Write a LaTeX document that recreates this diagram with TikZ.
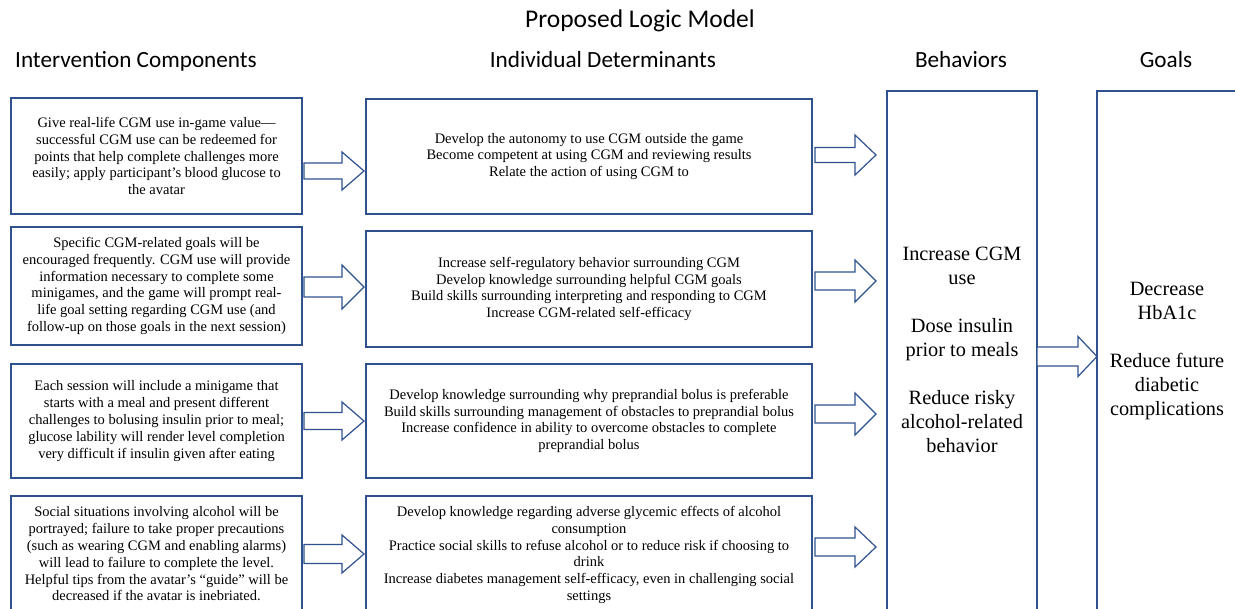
\documentclass[tikz,border=0pt]{standalone}
\usepackage{fontspec}
\setmainfont{Liberation Serif}
\newfontfamily\hdfont{Carlito}
\definecolor{boxblue}{HTML}{2F528F}
\newcommand\blockarr[6]{% x0, xtip, yc, shaft half, head half, head length
  \draw[arr] (#1,#3-#4) -- (#2-#6,#3-#4) -- (#2-#6,#3-#5) -- (#2,#3) -- (#2-#6,#3+#5) -- (#2-#6,#3+#4) -- (#1,#3+#4) -- cycle;}
\begin{document}
\begin{tikzpicture}[x=1pt,y=-1pt,
  box/.style={draw=boxblue, line width=1.3pt, fill=white, inner sep=0pt, align=center},
  small/.style={font=\fontsize{14.5}{16.8}\selectfont},
  big/.style={font=\fontsize{20.3}{24}\selectfont},
  head/.style={font=\hdfont\fontsize{23.2}{27}\selectfont, inner sep=0pt, anchor=base},
  arr/.style={draw=boxblue, line width=1.2pt, fill=white}]
\useasboundingbox (0,0) rectangle (1235,609);
\clip (0,0) rectangle (1235,609);
\fill[white] (0,0) rectangle (1235,609);

% headings
\node[head, font=\hdfont\fontsize{25.5}{30}\selectfont] (title) at (640,28) {Proposed Logic Model};
\node[head] (h1) at (136,68) {Intervention Components};
\node[head] (h2) at (603,68) {Individual Determinants};
\node[head] (h3) at (961,68) {Behaviors};
\node[head] (h4) at (1166,68) {Goals};

% left column
\node[box, small, minimum width=291pt, minimum height=116pt] (L1) at (156.5,156) {Give real-life CGM use in-game value---\\successful CGM use can be redeemed for\\points that help complete challenges more\\easily; apply participant's blood glucose to\\the avatar};
\node[box, small, minimum width=291pt, minimum height=118pt] (L2) at (156.5,286) {Specific CGM-related goals will be\\encouraged frequently. CGM use will provide\\information necessary to complete some\\minigames, and the game will prompt real-\\life goal setting regarding CGM use (and\\follow-up on those goals in the next session)};
\node[box, small, minimum width=291pt, minimum height=114pt] (L3) at (156.5,421) {Each session will include a minigame that\\starts with a meal and present different\\challenges to bolusing insulin prior to meal;\\glucose lability will render level completion\\very difficult if insulin given after eating};
\node[box, minimum width=291pt, minimum height=120pt] (L4) at (156.5,556) {};
\node[small, align=center, inner sep=0pt] (L4t) at (156.5,554) {Social situations involving alcohol will be\\portrayed; failure to take proper precautions\\(such as wearing CGM and enabling alarms)\\will lead to failure to complete the level.\\Helpful tips from the avatar's ``guide'' will be\\decreased if the avatar is inebriated.};

% middle column
\node[box, small, minimum width=446pt, minimum height=115pt] (M1) at (589,156.5) {Develop the autonomy to use CGM outside the game\\Become competent at using CGM and reviewing results\\Relate the action of using CGM to};
\node[box, small, minimum width=446pt, minimum height=116pt] (M2) at (589,289) {Increase self-regulatory behavior surrounding CGM\\Develop knowledge surrounding helpful CGM goals\\Build skills surrounding interpreting and responding to CGM\\Increase CGM-related self-efficacy};
\node[box, small, minimum width=446pt, minimum height=114pt] (M3) at (589,421) {Develop knowledge surrounding why preprandial bolus is preferable\\Build skills surrounding management of obstacles to preprandial bolus\\Increase confidence in ability to overcome obstacles to complete\\preprandial bolus};
\node[box, minimum width=446pt, minimum height=120pt] (M4) at (589,556) {};
\node[small, align=center, inner sep=0pt] (M4t) at (589,555) {Develop knowledge regarding adverse glycemic effects of alcohol\\consumption\\Practice social skills to refuse alcohol or to reduce risk if choosing to\\drink\\Increase diabetes management self-efficacy, even in challenging social\\settings};

% behaviors and goals
\node[box, minimum width=150pt, minimum height=530pt] (B) at (962,356) {};
\node[big, align=center, inner sep=0pt] (Bt) at (962,349.5) {Increase CGM\\use\\[24pt]Dose insulin\\prior to meals\\[24pt]Reduce risky\\alcohol-related\\behavior};
\node[box, minimum width=160pt, minimum height=530pt] (G) at (1177,356) {};
\node[big, align=center, inner sep=0pt] (Gt) at (1167,351) {Decrease\\HbA1c\\[24pt]Reduce future\\diabetic\\complications};

% block arrows
\blockarr{304}{364}{171}{8}{19}{22}
\blockarr{304}{364}{287}{10}{22}{22}
\blockarr{304}{364}{421}{8.5}{19}{22}
\blockarr{304}{364}{554}{9.5}{19}{22}
\blockarr{815}{876}{155}{7.5}{20}{21}
\blockarr{815}{876}{281}{9}{21}{21}
\blockarr{815}{876}{414}{9}{21}{21}
\blockarr{815}{876}{547}{9}{20}{21}
\blockarr{1037}{1097}{356.5}{9.5}{20}{19}
\end{tikzpicture}
\end{document}
